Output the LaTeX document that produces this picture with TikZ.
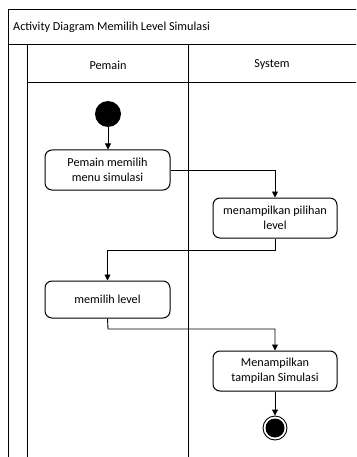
\documentclass[tikz,border=0pt]{standalone}
\usepackage{fontspec}
\setmainfont{Carlito}
\usetikzlibrary{arrows.meta}
\begin{document}
\begin{tikzpicture}[x=1pt,y=-1pt,
  frame/.style={draw=black,line width=1pt},
  act/.style={draw=black,line width=1pt,rounded corners=7pt,fill=white,align=center,font=\fontsize{12.2}{15}\selectfont,inner sep=0pt},
  flow/.style={draw=black,line width=0.9pt,-{Triangle[length=6pt,width=6pt]}},
  lbl/.style={font=\fontsize{12.2}{15}\selectfont,inner sep=0pt}]
\useasboundingbox (0,0) rectangle (356,457);
\begin{scope}
\clip (0,0) rectangle (356,457);
% outer frame
\draw[frame] (8,470) -- (8,10) -- (370,10);
\draw[frame] (8,45) -- (370,45);
\draw[frame] (27,470) -- (27,45);
\draw[frame] (27,83) -- (370,83);
\draw[frame] (188,470) -- (188,45);
\end{scope}
\node[lbl,anchor=west] (title) at (13,27) {Activity Diagram Memilih Level Simulasi};
\node[lbl] (lp) at (108,65) {Pemain};
\node[lbl] (ls) at (272,65) {System};
% start
\node[circle,fill=black,minimum size=26pt,inner sep=0pt] (start) at (108,114) {};
% activities
\node[act,minimum width=125pt,minimum height=40pt] (a1) at (107.5,170) {Pemain memilih\\menu simulasi};
\node[act,minimum width=124pt,minimum height=40pt] (a2) at (275,218) {menampilkan pilihan\\level};
\node[act,minimum width=125pt,minimum height=37pt] (a3) at (107.5,299.5) {memilih level};
\node[act,minimum width=124pt,minimum height=40pt] (a4) at (275,371) {Menampilkan\\tampilan Simulasi};
% end
\node[circle,draw=black,line width=0.9pt,fill=white,minimum size=24pt,inner sep=0pt] (end) at (275,428) {};
\node[circle,fill=black,minimum size=19pt,inner sep=0pt] (endin) at (end) {};
% connectors
\coordinate (c1) at (275,250);
\coordinate (c2) at (108,329);
\draw[flow] (start) -- (start |- a1.north);
\draw[flow] (a1.east) -| (a2.north);
\draw[flow] (a2.south) -- (c1) -| (a3.north);
\draw[flow] (a3.south) -- (c2) -| (a4.north);
\draw[flow] (a4.south) -- (end.north);
\end{tikzpicture}
\end{document}
